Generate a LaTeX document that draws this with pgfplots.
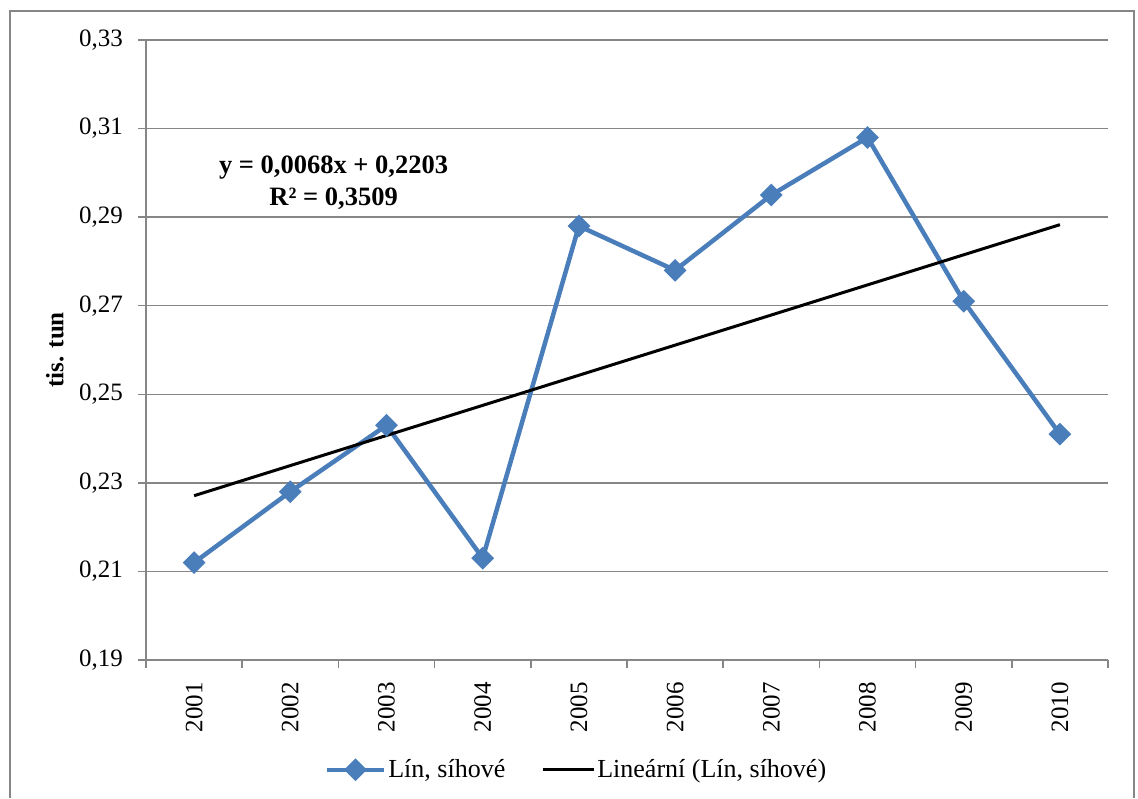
\documentclass[border=0pt]{standalone}
\usepackage{fontspec}
\setmainfont{Liberation Serif}
\usepackage{pgfplots}
\usepackage{pgfplotstable}
\pgfplotsset{compat=1.18}

\definecolor{linblue}{RGB}{74,126,187}
\definecolor{gridgray}{RGB}{134,134,134}

% Roční hodnoty (tis. tun)
\pgfplotstableread{
x y
1 0.212
2 0.228
3 0.243
4 0.213
5 0.288
6 0.278
7 0.295
8 0.308
9 0.271
10 0.241
}\lindata

\newcommand{\chartfont}{\fontsize{12.5bp}{15bp}\selectfont}

% legend samples of different lengths
\pgfplotsset{
  longmarklegend/.style={legend image code/.code={\draw[mark repeat=2, mark phase=2, ##1]
    plot coordinates {(0bp,0bp) (14.25bp,0bp) (28.5bp,0bp)};}},
  shortlinelegend/.style={legend image code/.code={\draw[##1] (0bp,0bp) -- (25.5bp,0bp);}},
}

\begin{document}
\begin{tikzpicture}[x=1bp,y=1bp]
\useasboundingbox (0,0) rectangle (569,399);
% rámeček grafu
\draw[gridgray, line width=0.75bp] (5,0) -- (5,393.5) -- (567,393.5) -- (567,0);
\begin{axis}[
  at={(73bp,69bp)}, anchor=south west,
  scale only axis, width=481bp, height=310bp,
  xmin=0.5, xmax=10.5, ymin=0.19, ymax=0.33,
  xtick={1,2,3,4,5,6,7,8,9,10},
  xticklabels={2001,2002,2003,2004,2005,2006,2007,2008,2009,2010},
  minor xtick={0.5,1.5,2.5,3.5,4.5,5.5,6.5,7.5,8.5,9.5,10.5},
  ytick={0.19,0.21,0.23,0.25,0.27,0.29,0.31,0.33},
  major x tick style={draw=none},
  minor x tick style={gridgray, line width=0.75bp},
  major y tick style={gridgray, line width=0.75bp},
  tick align=outside,
  major tick length=4bp, minor tick length=4bp,
  axis x line*=bottom, axis y line*=left,
  axis line style={gridgray, line width=0.75bp},
  ymajorgrids,
  grid style={gridgray, line width=0.75bp},
  yticklabel style={
    /pgf/number format/.cd, fixed, fixed zerofill, precision=2, use comma,
    assume math mode=true},
  tick label style={font=\chartfont},
  xticklabel style={rotate=90, anchor=east},
  xticklabel shift=3.5bp, yticklabel shift=4bp,
  xtick pos=bottom, ytick pos=left,
  ylabel={\textbf{tis. tun}},
  every axis y label/.style={at={(axis description cs:-0.0946,0.5)},
    rotate=90, anchor=center, font=\chartfont},
  legend style={at={(axis description cs:0.4475,-0.177)}, anchor=center,
    draw=none, font=\fontsize{13bp}{15bp}\selectfont, legend columns=2,
    nodes={inner sep=1bp},
    /tikz/every even column/.append style={column sep=17bp}},
  clip=false,
]
\addplot[linblue, line width=2.25bp, mark=square*, mark size=2.9bp,
  mark options={rotate=45, solid, fill=linblue}, longmarklegend]
  table[x=x, y=y] {\lindata};
\addlegendentry{Lín, síhové}
\addplot[black, line width=1.5bp, shortlinelegend]
  coordinates {(1,0.2271) (10,0.2883)};
\addlegendentry{Lineární (Lín, síhové)}
\node[font=\fontsize{13.25bp}{16bp}\selectfont\bfseries, align=center]
  at (axis cs:2.45,0.2978) {y = 0,0068x + 0,2203\\R² = 0,3509};
\end{axis}
\end{tikzpicture}
\end{document}
